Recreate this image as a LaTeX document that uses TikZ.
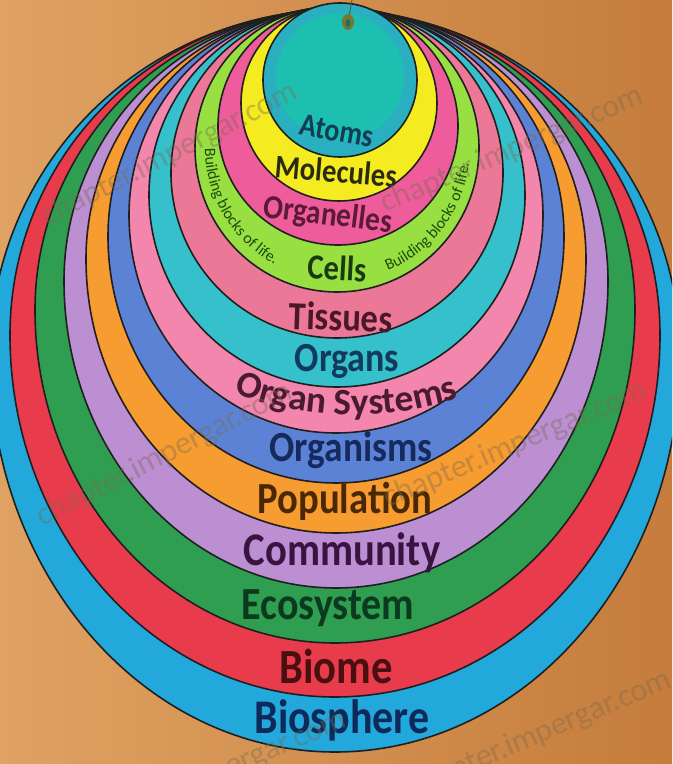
\documentclass[tikz,border=0pt]{standalone}
\usepackage{fontspec}
\setmainfont{Carlito}
\usetikzlibrary{decorations.text}
\definecolor{bgL}{HTML}{DFA262}
\definecolor{bgR}{HTML}{C57C3C}
\definecolor{bios}{HTML}{22A8DA}
\definecolor{biome}{HTML}{E83C4C}
\definecolor{eco}{HTML}{2F9E50}
\definecolor{comm}{HTML}{BC8ED2}
\definecolor{popu}{HTML}{F79C30}
\definecolor{orgm}{HTML}{5C82D6}
\definecolor{osys}{HTML}{F286AC}
\definecolor{orgn}{HTML}{36C0CC}
\definecolor{tiss}{HTML}{EC7898}
\definecolor{cell}{HTML}{98E042}
\definecolor{orgl}{HTML}{EE5C9C}
\definecolor{mole}{HTML}{F4EC20}
\definecolor{atom}{HTML}{1DC0B0}
\definecolor{atomrim}{HTML}{2AAFC0}
\definecolor{tBios}{HTML}{0E2A5A}
\definecolor{tBiome}{HTML}{4A1010}
\definecolor{tEco}{HTML}{0C3A1E}
\definecolor{tComm}{HTML}{3A1440}
\definecolor{tPopu}{HTML}{4A2806}
\definecolor{tOrgm}{HTML}{162A5E}
\definecolor{tOsys}{HTML}{4A1A30}
\definecolor{tOrgn}{HTML}{123A5C}
\definecolor{tTiss}{HTML}{4A1828}
\definecolor{tCell}{HTML}{1A3A10}
\definecolor{tOrgl}{HTML}{5A1A38}
\definecolor{tMole}{HTML}{2A2A10}
\definecolor{tAtom}{HTML}{123C5A}
\definecolor{bbtxt}{HTML}{1E4A10}
\definecolor{wmc}{HTML}{7A6A50}
\newcommand{\ringlabel}[2]{\scalebox{1}[1.15]{\fontsize{#1}{#1}\selectfont\bfseries #2}}
\newcommand{\ringshape}[5]{%
  \path[ring, fill=#1] (#2-#4, #3) arc[start angle=180, end angle=0, radius=#4]
    arc[start angle=0, end angle=-180, x radius=#4, y radius=#5] -- cycle;}
\tikzset{
  ring/.style={draw=black!88, line width=1.2pt},
  lbl/.style={inner sep=0pt},
  wm/.style={inner sep=0pt, font=\fontsize{24}{24}\selectfont, text=wmc, text opacity=0.4}
}
\begin{document}
\begin{tikzpicture}[x=0.75pt, y=0.75pt]
\useasboundingbox (0,0) rectangle (672,764);
\clip (0,0) rectangle (672,764);
\shade[left color=bgL, right color=bgR] (0,0) rectangle (672,764);
% rings, largest first
\ringshape{bios}{335}{408}{345}{396}
\ringshape{biome}{335}{429}{325}{362}
\ringshape{eco}{335}{454}{300}{333}
\ringshape{comm}{336}{483}{272}{307}
\ringshape{popu}{336}{505}{250}{274}
\ringshape{orgm}{336}{528}{228}{247}
\ringshape{osys}{336}{549}{207}{218}
\ringshape{orgn}{337}{569}{188}{192}
\ringshape{tiss}{337}{591}{166}{165}
\ringshape{cell}{337}{616}{142}{144}
\ringshape{orgl}{338}{638}{120}{119}
\ringshape{mole}{339}{661}{98}{98}
\path[ring, fill=atomrim] (340,684) circle[radius=77];
\fill[atom] (340,687) circle[radius=64];
% eyelet
\draw[line width=0.6pt, color=black!50!olive] (348,742) -- (352,764);
\fill[color=black!30!olive!80!brown] (348,742) ellipse[x radius=6, y radius=8];
\fill[color=atom!60!black] (348,741) ellipse[x radius=2.5, y radius=4];
% labels
\node[lbl, text=tAtom, rotate=-10] (atoms) at (337,633) {\ringlabel{21}{Atoms}};
\node[lbl, text=tMole, rotate=-5] (molecules) at (336,593) {\ringlabel{21.5}{Molecules}};
\node[lbl, text=tOrgl, rotate=-7] (organelles) at (328,548) {\ringlabel{22}{Organelles}};
\node[lbl, text=tCell, rotate=-3] (cells) at (337,496) {\ringlabel{23}{Cells}};
\node[lbl, text=tTiss, rotate=-2] (tissues) at (341,447) {\ringlabel{26}{Tissues}};
\node[lbl, text=tOrgn] (organs) at (347,403) {\ringlabel{27}{Organs}};
\path[decorate, decoration={text along path, text color=tOsys, text align=center,
  text={|\fontsize{28}{28}\selectfont\bfseries|Organ Systems}}]
  (228,375) .. controls (285,345) and (390,340) .. (465,368);
\node[lbl, text=tOrgm] (organisms) at (351,314) {\ringlabel{28}{Organisms}};
\node[lbl, text=tPopu] (population) at (345,263) {\ringlabel{29}{Population}};
\node[lbl, text=tComm] (community) at (342,211) {\ringlabel{30.5}{Community}};
\node[lbl, text=tEco] (ecosystem) at (328,156) {\ringlabel{30}{Ecosystem}};
\node[lbl, text=tBiome] (biome) at (336,98) {\ringlabel{32}{Biome}};
\node[lbl, text=tBios] (biosphere) at (342,44) {\ringlabel{31.5}{Biosphere}};
% building blocks text
\path[decorate, decoration={text along path, text color=bbtxt, text align=center,
  text={|\fontsize{12}{12}\selectfont|Building blocks of life.}}]
  (337,616) ++(170:132 and 132) arc[start angle=170, end angle=252, x radius=132, y radius=132];
\path[decorate, decoration={text along path, text color=bbtxt, text align=center,
  text={|\fontsize{12}{12}\selectfont|Building blocks of life.}}]
  (337,616) ++(287:133 and 133) arc[start angle=287, end angle=359, x radius=133, y radius=133];
% watermarks
\node[wm, rotate=27] (wm1) at (170,609) {chapter.impergar.com};
\node[wm, rotate=23] (wm2) at (512,614) {chapter.impergar.com};
\node[wm, rotate=27] (wm3) at (165,309) {chapter.impergar.com};
\node[wm, rotate=23] (wm4) at (515,319) {chapter.impergar.com};
\node[wm, rotate=23] (wm5) at (215,-10) {chapter.impergar.com};
\node[wm, rotate=23] (wm6) at (540,30) {chapter.impergar.com};
\end{tikzpicture}
\end{document}
